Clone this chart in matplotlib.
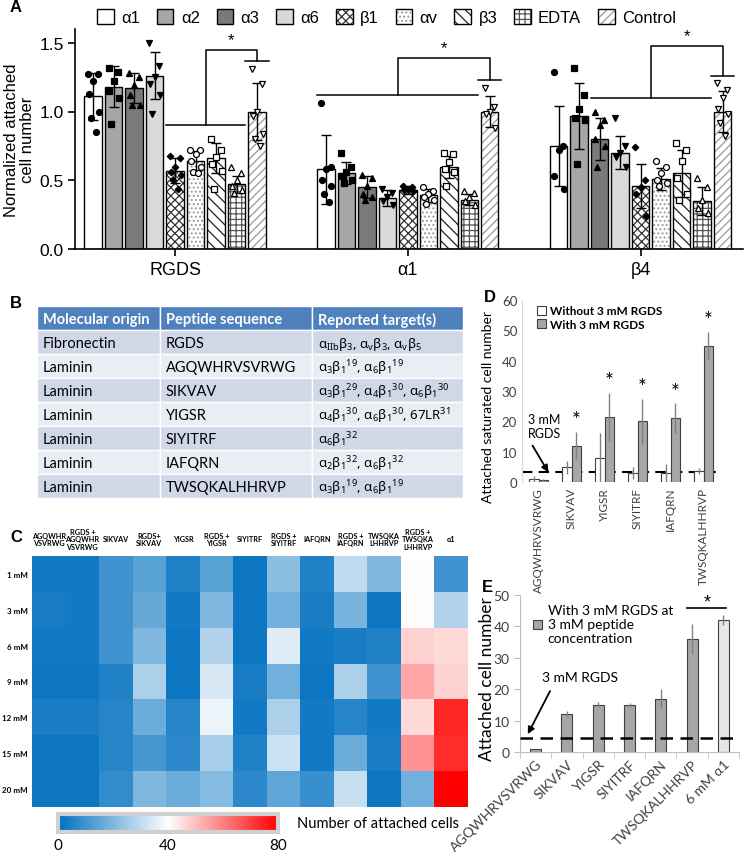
import matplotlib
matplotlib.use('Agg')
import matplotlib.pyplot as plt
import numpy as np
from matplotlib.patches import Patch, Rectangle
from matplotlib.colors import LinearSegmentedColormap

plt.rcParams['font.family'] = ['Liberation Sans', 'DejaVu Sans']
plt.rcParams['mathtext.fontset'] = 'custom'
plt.rcParams['mathtext.default'] = 'regular'
plt.rcParams['hatch.linewidth'] = 0.9

# ---------------- panel A data ----------------
conditions = ['α1', 'α2', 'α3', 'α6', 'β1', 'αv', 'β3', 'EDTA', 'Control']
groups = ['RGDS', 'α1', 'β4']

means_rgds = [1.11, 1.18, 1.17, 1.26, 0.57, 0.64, 0.66, 0.47, 1.00]
sd_rgds = [0.17, 0.15, 0.11, 0.17, 0.09, 0.07, 0.11, 0.06, 0.21]
pts_rgds = [[1.27, 1.27, 1.22, 1.13, 1.00, 0.95, 0.85],
            [1.32, 1.29, 1.22, 1.15, 1.10, 0.91],
            [1.28, 1.25, 1.19, 1.12, 1.05, 1.05],
            [1.50, 1.33, 1.25, 1.20, 1.12, 0.98],
            [0.68, 0.66, 0.60, 0.56, 0.54, 0.50, 0.44],
            [0.72, 0.72, 0.69, 0.64, 0.60, 0.56, 0.55],
            [0.80, 0.72, 0.67, 0.62, 0.57, 0.44],
            [0.60, 0.55, 0.50, 0.46, 0.43, 0.41],
            [1.31, 1.20, 1.00, 0.97, 0.84, 0.80, 0.75]]

means_a1 = [0.58, 0.55, 0.45, 0.37, 0.43, 0.39, 0.60, 0.36, 1.00]
sd_a1 = [0.25, 0.08, 0.08, 0.06, 0.03, 0.05, 0.08, 0.04, 0.11]
pts_a1 = [[1.06, 0.60, 0.58, 0.50, 0.46, 0.40, 0.34],
          [0.70, 0.60, 0.56, 0.53, 0.50, 0.48],
          [0.54, 0.52, 0.46, 0.40, 0.38, 0.36],
          [0.44, 0.41, 0.38, 0.35, 0.32],
          [0.46, 0.45, 0.44, 0.43, 0.42],
          [0.45, 0.42, 0.40, 0.38, 0.36, 0.33],
          [0.70, 0.69, 0.63, 0.58, 0.56, 0.46],
          [0.42, 0.41, 0.38, 0.35, 0.32],
          [1.17, 1.03, 1.00, 0.98, 0.88]]

means_b4 = [0.75, 0.97, 0.80, 0.70, 0.46, 0.51, 0.55, 0.35, 1.00]
sd_b4 = [0.29, 0.24, 0.15, 0.12, 0.16, 0.08, 0.17, 0.10, 0.15]
pts_b4 = [[1.29, 0.75, 0.72, 0.53, 0.44],
          [1.32, 1.12, 1.02, 0.95, 0.94, 0.62],
          [1.00, 0.94, 0.90, 0.80, 0.75, 0.60],
          [0.95, 0.75, 0.70, 0.67, 0.60],
          [0.74, 0.50, 0.45, 0.40, 0.24],
          [0.64, 0.60, 0.55, 0.50, 0.48, 0.46],
          [0.77, 0.72, 0.64, 0.52, 0.40, 0.36],
          [0.52, 0.45, 0.36, 0.30, 0.26],
          [1.21, 1.16, 1.10, 1.02, 0.98, 0.92, 0.82]]

# significance brackets: first bar, last bar, base y, top y, cap y
sig_first = [4, 0, 2]
sig_last = [7, 7, 7]
sig_base = [0.90, 1.12, 1.10]
sig_top = [1.45, 1.39, 1.48]
sig_cap = [1.37, 1.23, 1.26]

# ---------------- panel B data ----------------
tbl_header = ['Molecular origin', 'Peptide sequence', 'Reported target(s)']
tbl_origin = ['Fibronectin', 'Laminin', 'Laminin', 'Laminin', 'Laminin', 'Laminin', 'Laminin']
tbl_peptide = ['RGDS', 'AGQWHRVSVRWG', 'SIKVAV', 'YIGSR', 'SIYITRF', 'IAFQRN', 'TWSQKALHHRVP']
tbl_target = [r'α$_{IIb}$β$_3$, α$_v$β$_3$, α$_v$β$_5$',
              r'α$_3$β$_1$$^{19}$, α$_6$β$_1$$^{19}$',
              r'α$_3$β$_1$$^{29}$, α$_4$β$_1$$^{30}$, α$_6$β$_1$$^{30}$',
              r'α$_4$β$_1$$^{30}$, α$_6$β$_1$$^{30}$, 67LR$^{31}$',
              r'α$_6$β$_1$$^{32}$',
              r'α$_2$β$_1$$^{32}$, α$_6$β$_1$$^{32}$',
              r'α$_3$β$_1$$^{19}$, α$_6$β$_1$$^{19}$']

# ---------------- panel C data ----------------
heat_cols = ['AGQWHR\nVSVRWG', 'RGDS +\nAGQWHR\nVSVRWG', 'SIKVAV', 'RGDS+\nSIKVAV', 'YIGSR',
             'RGDS +\nYIGSR', 'SIYITRF', 'RGDS +\nSIYITRF', 'IAFQRN', 'RGDS +\nIAFQRN',
             'TWSQKA\nLHHRVP', 'RGDS +\nTWSQKA\nLHHRVP', 'α1']
heat_rows = ['1 mM', '3 mM', '6 mM', '9 mM', '12 mM', '15 mM', '20 mM']
# one list per peptide column, values for 1..20 mM
heat_by_peptide = [[3, 4, 3, 2, 4, 2, 2],
                   [3, 3, 3, 2, 4, 2, 2],
                   [10, 10, 10, 5, 6, 6, 8],
                   [14, 16, 20, 27, 17, 11, 20],
                   [5, 3, 2, 2, 6, 7, 17],
                   [14, 20, 28, 34, 37, 26, 21],
                   [2, 2, 2, 4, 3, 5, 7],
                   [22, 18, 35, 18, 27, 32, 15],
                   [5, 4, 3, 2, 3, 3, 9],
                   [30, 19, 4, 27, 6, 17, 31],
                   [20, 2, 5, 10, 3, 4, 2],
                   [40, 40, 47, 54, 46, 57, 18],
                   [10, 28, 46, 47, 74, 73, 80]]

# ---------------- panel D data ----------------
d_peptides = ['AGQWHRVSVRWG', 'SIKVAV', 'YIGSR', 'SIYITRF', 'IAFQRN', 'TWSQKALHHRVP']
d_without = [1.0, 4.8, 8.0, 3.0, 3.0, 3.5]
d_without_err = [1.0, 2.0, 8.0, 2.0, 3.0, 1.0]
d_with = [0.5, 12.0, 21.5, 20.0, 21.0, 45.0]
d_with_err = [0.5, 4.5, 8.0, 7.5, 5.0, 4.5]
d_sig = [False, True, True, True, True, True]
d_rgds_level = 3.2

# ---------------- panel E data ----------------
e_labels = ['AGQWHRVSVRWG', 'SIKVAV', 'YIGSR', 'SIYITRF', 'IAFQRN', 'TWSQKALHHRVP', '6 mM α1']
e_values = [0.8, 12.0, 15.0, 15.0, 17.0, 36.0, 42.0]
e_err = [0.0, 1.0, 0.8, 0.7, 3.0, 4.7, 1.5]
e_rgds_level = 4.6

W, H = 746, 853
fig = plt.figure(figsize=(W / 100, H / 100), dpi=100)
CAL = ['Lato', 'DejaVu Sans']   # stand-in for the Calibri-looking office font


def px_axes(l, t, r, b):
    return fig.add_axes([l / W, 1 - b / H, (r - l) / W, (b - t) / H])


# =========================== A ===========================
styles = [dict(fc='white', hatch=None, hc='black', m='o', mfc='black'),
          dict(fc='#a6a6a6', hatch=None, hc='black', m='s', mfc='black'),
          dict(fc='#7a7a7a', hatch=None, hc='black', m='^', mfc='black'),
          dict(fc='#d9d9d9', hatch=None, hc='black', m='v', mfc='black'),
          dict(fc='white', hatch='xxxx', hc='#333333', m='D', mfc='black'),
          dict(fc='white', hatch='....', hc='#999999', m='o', mfc='white'),
          dict(fc='white', hatch='\\\\\\', hc='#222222', m='s', mfc='white'),
          dict(fc='white', hatch='+++', hc='#555555', m='^', mfc='white'),
          dict(fc='white', hatch='////', hc='#999999', m='v', mfc='white')]
JIT = [-0.022, 0.02, 0.0, -0.018, 0.024, -0.01, 0.012]
step, bw = 0.088, 0.075

axA = px_axes(75, 30, 743, 250)
all_means = [means_rgds, means_a1, means_b4]
all_sd = [sd_rgds, sd_a1, sd_b4]
all_pts = [pts_rgds, pts_a1, pts_b4]
for g in range(3):
    for i in range(9):
        x = g + (i - 4) * step
        st = styles[i]
        axA.bar(x, all_means[g][i], bw, color=st['fc'], hatch=st['hatch'],
                edgecolor=st['hc'], lw=0, zorder=2)
        axA.bar(x, all_means[g][i], bw, fill=False, edgecolor='black', lw=1, zorder=3)
        axA.errorbar(x, all_means[g][i], yerr=all_sd[g][i], fmt='none', ecolor='black',
                     elinewidth=1, capsize=3.5, capthick=1, zorder=4)
        ys = all_pts[g][i]
        xs = x + np.array(JIT[:len(ys)])
        ms = 3.3 if st['m'] == 'D' else 4.3
        axA.plot(xs, ys, ls='none', marker=st['m'], mfc=st['mfc'], mec='black',
                 ms=ms, mew=0.9, zorder=5)

    # bracket
    x0 = g + (sig_first[g] - 4) * step - bw / 2
    x1 = g + (sig_last[g] - 4) * step + bw / 2
    xm = (x0 + x1) / 2
    xc = g + 4 * step
    axA.plot([x0, x1], [sig_base[g]] * 2, color='black', lw=1.1)
    axA.plot([xm, xm, xc, xc], [sig_base[g], sig_top[g], sig_top[g], sig_cap[g]],
             color='black', lw=1.1)
    axA.plot([xc - 0.05, xc + 0.05], [sig_cap[g]] * 2, color='black', lw=1.1)
    axA.text((xm + xc) / 2, sig_top[g] + 0.02, '*', ha='center', va='bottom', fontsize=12)

axA.set_xlim(-0.43, 2.44)
axA.set_ylim(0, 1.6)
axA.set_yticks([0, 0.5, 1.0, 1.5])
axA.set_yticklabels(['0.0', '0.5', '1.0', '1.5'])
axA.set_xticks(range(3))
axA.set_xticklabels(groups)
axA.tick_params(labelsize=13, width=1.2, length=5)
axA.tick_params(axis='y', labelsize=12.5, pad=3)
axA.spines[['top', 'right']].set_visible(False)
axA.spines[['left', 'bottom']].set_linewidth(1.2)
axA.set_ylabel('Normalized attached\ncell number', fontsize=12, linespacing=1.05)
axA.yaxis.set_label_coords(-0.06, 0.5)

handles = [(Patch(facecolor=st['fc'], hatch=st['hatch'], edgecolor=st['hc'], lw=0),
            Patch(facecolor='none', edgecolor='black', lw=1)) for st in styles]
fig.legend(handles, conditions, loc='upper left', bbox_to_anchor=(97 / W, 1 - 10 / H),
           ncol=9, frameon=False, fontsize=12, handlelength=1.0, handleheight=1.0,
           handletextpad=0.45, columnspacing=1.0, borderaxespad=0, borderpad=0)

# =========================== B ===========================
axB = px_axes(37, 307, 463, 499)
axB.set_xlim(0, 426)
axB.set_ylim(8, 0)
axB.axis('off')
col_x = [0, 123, 275, 426]
tbl_rows = [tbl_header] + [[o, p, t] for o, p, t in zip(tbl_origin, tbl_peptide, tbl_target)]
for r, row in enumerate(tbl_rows):
    fc = '#4f81bd' if r == 0 else ('#d0d8e8' if r % 2 else '#e9edf4')
    for c in range(3):
        axB.add_patch(Rectangle((col_x[c], r), col_x[c + 1] - col_x[c], 1,
                                facecolor=fc, edgecolor='white', lw=1))
        fam = ['Noto Sans', 'DejaVu Sans'] if (c == 2 and r > 0) else CAL
        axB.text(col_x[c] + 6, r + 0.55, row[c], ha='left', va='center',
                 fontsize=9.5 if (c == 2 and r > 0) else 10.5, family=fam,
                 color='white' if r == 0 else 'black',
                 fontweight='bold' if r == 0 else 'normal')

# =========================== C ===========================
blue_white_red = LinearSegmentedColormap.from_list(
    'bwr_xl', [(0, '#0070c0'), (0.5, '#ffffff'), (1, '#ff0000')])
heat = np.array(heat_by_peptide).T
axC = px_axes(32, 557, 468, 808)
im = axC.imshow(heat, cmap=blue_white_red, vmin=0, vmax=80, aspect='auto')
axC.set_xticks([])
axC.set_yticks(range(len(heat_rows)))
axC.set_yticklabels(heat_rows, fontsize=5.8, fontweight='bold', family=CAL)
axC.tick_params(axis='y', length=0, pad=3)
for s in axC.spines.values():
    s.set_visible(False)
for i, lbl in enumerate(heat_cols):
    axC.text(i, 1.068, lbl, transform=axC.get_xaxis_transform(), ha='center', va='center',
             fontsize=5.2, fontweight='bold', family=CAL, linespacing=1.1)

cax = px_axes(58, 815, 278, 833)
cb = fig.colorbar(im, cax=cax, orientation='horizontal', ticks=[0, 40, 80])
cb.outline.set_edgecolor('#d0d0d0')
cb.outline.set_linewidth(3)
cax.tick_params(length=0, labelsize=11, pad=4)
for t in cax.get_xticklabels():
    t.set_family(CAL)
fig.text(297 / W, 1 - 824 / H, 'Number of attached cells', fontsize=10.5,
         family=CAL, va='center')

# =========================== E (drawn first so D's labels stay on top) ===========================
axE = px_axes(520, 596, 739, 753)
axE.patch.set_visible(False)
xe = np.arange(len(e_labels))
ecolors = ['#a6a6a6'] * (len(e_labels) - 1) + ['#e6e6e6']
axE.bar(xe, e_values, 0.35, color=ecolors, edgecolor='#404040', lw=0.8, zorder=2)
axE.errorbar(xe, e_values, yerr=e_err, fmt='none', ecolor='#808080', elinewidth=1, zorder=3)
axE.axhline(e_rgds_level, color='black', lw=1.8, ls=(0, (5, 3)), zorder=4)
axE.plot([4.85, 6.1], [45.9, 45.9], color='black', lw=1.2)
axE.text(5.5, 46.3, '*', ha='center', va='baseline', fontsize=13)
axE.set_xlim(-0.42, 6.5)
axE.set_ylim(0, 50)
axE.set_yticks(range(0, 51, 10))
axE.set_xticks(xe)
axE.set_xticklabels(e_labels, rotation=45, ha='right', rotation_mode='anchor')
axE.set_xticks(np.arange(-0.5, len(e_labels), 1), minor=True)
axE.tick_params(axis='x', which='major', length=0, labelsize=10, labelcolor='#404040', pad=4)
axE.tick_params(axis='x', which='minor', length=4, color='#bfbfbf')
axE.tick_params(axis='y', length=4, color='#bfbfbf', labelsize=10, labelcolor='#404040')
for t in axE.get_xticklabels() + axE.get_yticklabels():
    t.set_family(CAL)
axE.spines[['top', 'right']].set_visible(False)
axE.spines[['left', 'bottom']].set_color('#bfbfbf')
axE.set_ylabel('Attached cell number', fontsize=12.5, family=CAL)
axE.yaxis.set_label_coords(-0.115, 0.47)
axE.legend([Patch(facecolor='#a6a6a6', edgecolor='#404040', lw=0.8)],
           ['With 3 mM RGDS at\n3 mM peptide\nconcentration'], loc='upper left',
           bbox_to_anchor=(0.0, 1.02), frameon=False, handlelength=0.7, handleheight=0.7,
           handletextpad=0.4, prop=dict(family=CAL, size=10))
axE.text(0.2, 23.9, '3 mM RGDS', fontsize=10, family=CAL, ha='left', va='center')
axE.annotate('', xy=(-0.25, 5.7), xytext=(0.46, 19.4),
             arrowprops=dict(arrowstyle='-|>', color='black', lw=1.3, shrinkA=0, shrinkB=0))

# =========================== D ===========================
axD = px_axes(522, 301, 720, 483)
xd = np.arange(len(d_peptides))
dw = 0.29
axD.axhline(d_rgds_level, color='black', lw=1.5, ls=(0, (5, 3)), zorder=1)
axD.bar(xd - dw / 2, d_without, dw, color='white', edgecolor='#404040', lw=0.8, zorder=2,
        label='Without 3 mM RGDS')
axD.bar(xd + dw / 2, d_with, dw, color='#a6a6a6', edgecolor='#404040', lw=0.8, zorder=2,
        label='With 3 mM RGDS')
axD.errorbar(xd - dw / 2, d_without, yerr=d_without_err, fmt='none', ecolor='#808080',
             elinewidth=1, zorder=3)
axD.errorbar(xd + dw / 2, d_with, yerr=d_with_err, fmt='none', ecolor='#808080',
             elinewidth=1, zorder=3)
for i in range(len(d_peptides)):
    if d_sig[i]:
        axD.text(xd[i] + dw / 2, d_with[i] + d_with_err[i] + 0.5, '*', ha='center',
                 va='bottom', fontsize=15, family=CAL)
axD.set_xlim(-0.5, len(d_peptides) - 0.5)
axD.set_ylim(0, 60)
axD.set_yticks(range(0, 61, 10))
axD.set_xticks(xd)
axD.set_xticklabels(d_peptides, rotation=90)
axD.tick_params(length=0, labelsize=9.5, labelcolor='#404040')
axD.tick_params(axis='x', labelsize=8.5)
for t in axD.get_xticklabels() + axD.get_yticklabels():
    t.set_family(CAL)
for s in ['top', 'right', 'bottom']:
    axD.spines[s].set_visible(False)
axD.spines['left'].set_color('#d9d9d9')
axD.set_ylabel('Attached saturated cell number', fontsize=10, family=CAL)
axD.yaxis.set_label_coords(-0.14, 0.42)
axD.legend(loc='upper left', bbox_to_anchor=(0.02, 1.03), frameon=False,
           handlelength=0.8, handleheight=0.8, handletextpad=0.3, labelspacing=0.2,
           prop=dict(family=CAL, weight='bold', size=8.5))
axD.text(-0.33, 18.5, '3 mM\nRGDS', fontsize=9, family=CAL, ha='left', va='center')
axD.annotate('', xy=(0.3, d_rgds_level), xytext=(-0.18, 12.0),
             arrowprops=dict(arrowstyle='-|>', color='black', lw=1.3, shrinkA=0, shrinkB=0))

# panel letters
for lbl, (x, y) in zip('ABCDE', [(10, 8), (10, 303), (10, 538), (484, 298), (482, 587)]):
    fig.text(x / W, 1 - y / H, lbl, fontsize=12, fontweight='bold', va='center', ha='left',
             family=['Liberation Sans', 'DejaVu Sans'])

fig.savefig('out.png', dpi=100)
